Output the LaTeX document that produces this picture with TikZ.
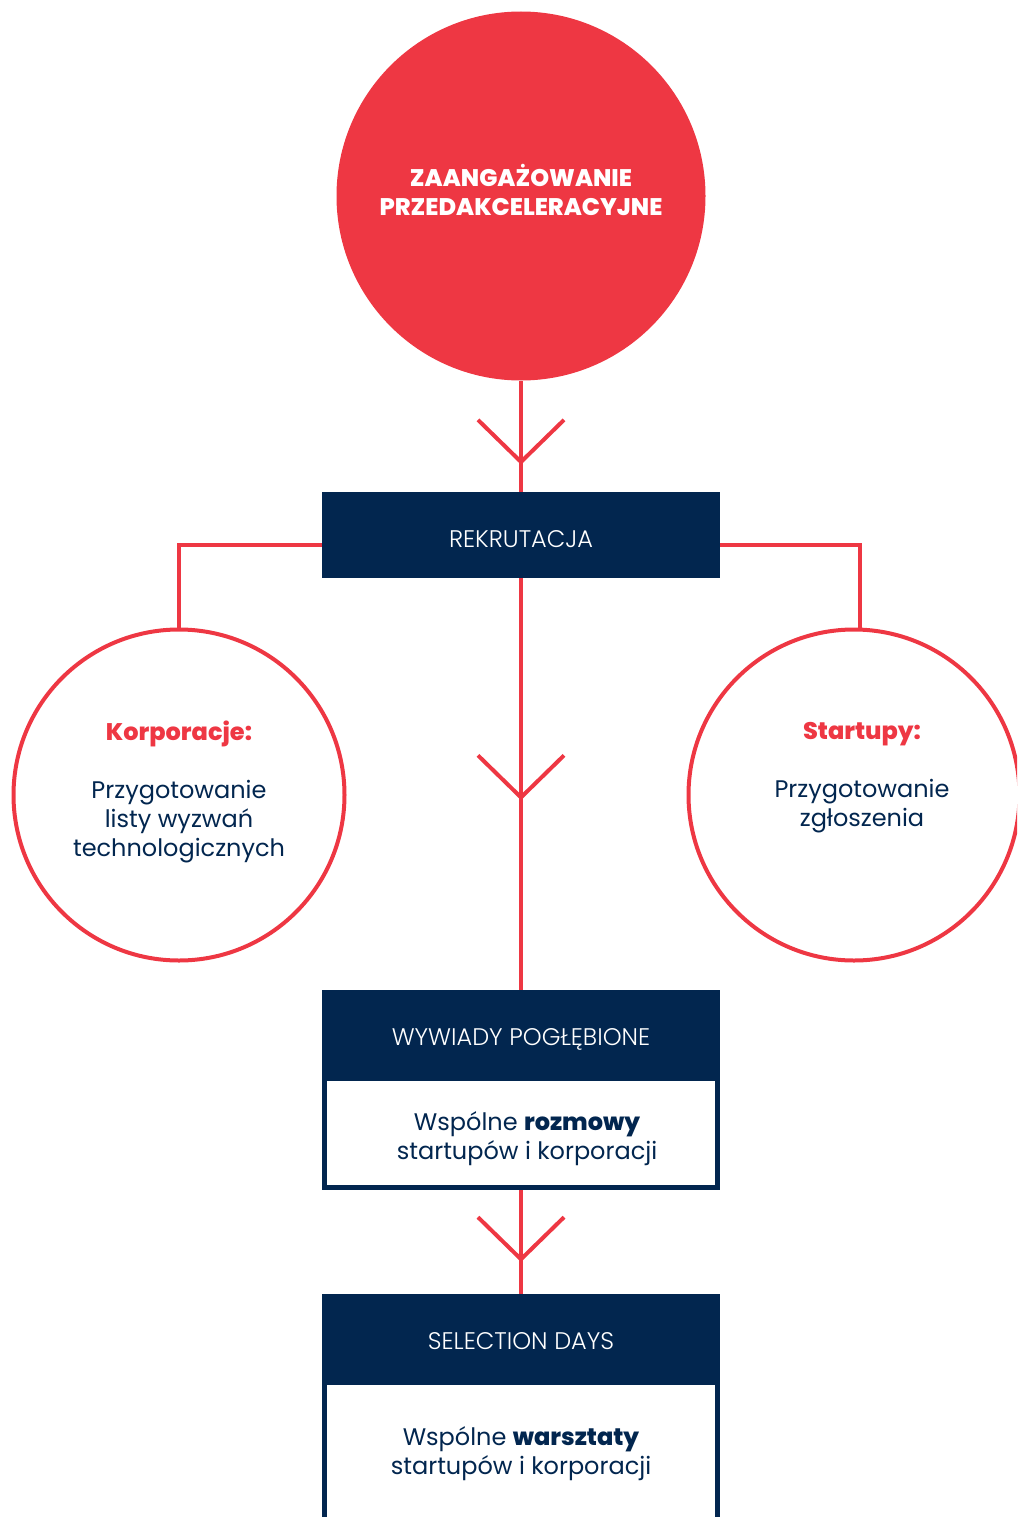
\documentclass[tikz,border=0pt]{standalone}
\usepackage{fontspec}
\setmainfont{Poppins}
\newfontfamily\heavyfont{Poppins ExtraBold}
\newfontfamily\lightfont{Poppins Light}
\usetikzlibrary{arrows.meta, decorations.markings, positioning}
\definecolor{brandred}{HTML}{EE3743}
\definecolor{brandnavy}{HTML}{02264F}

\begin{document}
\begin{tikzpicture}[
  x=1pt, y=-1pt,
  bigdot/.style={circle, fill=brandred, minimum size=369pt, inner sep=0pt},
  dottext/.style={text=white, align=center, inner sep=0pt, font=\fontsize{24}{29}\selectfont\heavyfont},
  ring/.style={circle, draw=brandred, line width=4pt, minimum size=331pt, inner sep=0pt},
  ringtext/.style={text=brandnavy, align=center, inner sep=0pt, font=\fontsize{24}{29}\selectfont},
  header/.style={rectangle, fill=brandnavy, minimum width=398pt, minimum height=86pt, inner sep=0pt, text height=24pt, text depth=0pt, text=white, font=\fontsize{24}{29}\selectfont\lightfont},
  panel/.style={rectangle, draw=brandnavy, line width=5pt, fill=white, minimum width=393pt, inner sep=0pt},
  paneltext/.style={text=brandnavy, align=center, inner sep=0pt, font=\fontsize{24}{29}\selectfont},
  link/.style={brandred, line width=4pt},
  chevron/.style={postaction={decorate}, decoration={markings, mark=at position #1 with {\arrow{Straight Barb[length=42pt, width=86pt]}}}}
]
\useasboundingbox (0,0) rectangle (1017,1517);
\clip (0,0) rectangle (1017,1517);

% top circle
\node[bigdot] (hub) at (521,196) {};
\node[dottext] (hubtext) at ([yshift=6pt]hub.center) {ZAANGAŻOWANIE\\PRZEDAKCELERACYJNE};

% recruitment bar and the two circles
\node[header] (rekr) at (521,535) {REKRUTACJA};
\node[ring] (corp) at (179,795) {};
\node[ring] (start) at (854,795) {};
\node[ringtext, anchor=north] (corptext) at (179,721) {{\color{brandred}\heavyfont Korporacje:}\\[29pt]Przygotowanie\\listy wyzwań\\technologicznych};
\node[ringtext, anchor=north] (starttext) at (862,722) {{\color{brandred}\heavyfont Startupy:}\\[29pt]Przygotowanie\\zgłoszenia};

% interviews
\node[panel, minimum height=109pt] (wywbody) at (521,1133) {};
\node[paneltext] (wywtext) at ([xshift=6pt, yshift=-6pt]wywbody.center) {Wspólne {\heavyfont rozmowy}\\startupów i korporacji};
\node[header] (wywhead) at (521,1033) {WYWIADY POGŁĘBIONE};

% selection days
\node[panel, minimum height=137pt] (selbody) at (521,1451) {};
\node[paneltext] (seltext) at ([yshift=-3pt]selbody.center) {Wspólne {\heavyfont warsztaty}\\startupów i korporacji};
\node[header] (selhead) at (521,1337) {SELECTION DAYS};

% connectors
\draw[link, chevron=84pt] (hub.south) -- (rekr.north);
\draw[link] ([yshift=-10pt]rekr.west) -| (corp.north);
\draw[link] ([yshift=-10pt]rekr.east) -| ([xshift=6pt]start.north);
\draw[link, chevron=222pt] (rekr.south) -- (wywhead.north);
\draw[link, chevron=72pt] (wywbody.south) -- (selhead.north);

\end{tikzpicture}
\end{document}
